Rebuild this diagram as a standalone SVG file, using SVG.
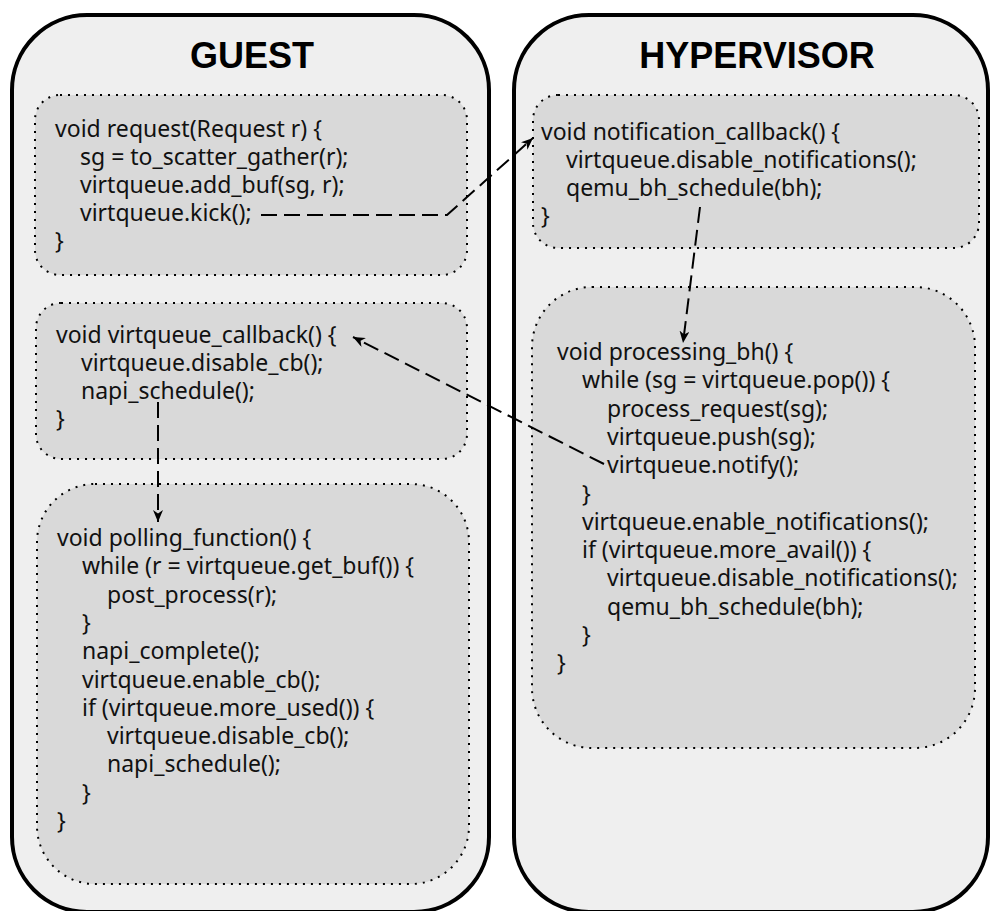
<svg xmlns="http://www.w3.org/2000/svg" width="990" height="911" viewBox="0 0 990 911">
  <style>
    .outer { fill: #efefef; stroke: #000; stroke-width: 4; }
    .inner { fill: #d9d9d9; stroke: #000; stroke-width: 2; stroke-dasharray: 2 6; }
    .title { font-family: "Liberation Sans", Arial, sans-serif; font-weight: bold; font-size: 36px; fill: #000; text-anchor: middle; }
    .code { font-family: "Noto Sans", "Open Sans", sans-serif; font-size: 23px; fill: #111; }
    .flow { fill: none; stroke: #000; stroke-width: 2; stroke-dasharray: 16 7; }
  </style>
  <defs>
    <marker id="arrow" viewBox="0 0 12 10" refX="12" refY="5" markerWidth="12" markerHeight="10" markerUnits="userSpaceOnUse" orient="auto">
      <path d="M0,0 L12,5 L0,10 L3.5,5 z" fill="#000"/>
    </marker>
  </defs>

  <rect width="990" height="911" fill="#fff"/>

  <!-- Guest side -->
  <g id="guest">
    <rect class="outer" x="12" y="15" width="477" height="897" rx="75" ry="75"/>
    <text class="title" x="252" y="68">GUEST</text>
  </g>

  <g id="guest-request">
    <rect class="inner" x="35" y="95" width="432" height="180" rx="25" ry="25"/>
    <text class="code" x="55" y="137" textLength="267" lengthAdjust="spacing">void request(Request r) {</text>
    <text class="code" x="80" y="165">sg = to_scatter_gather(r);</text>
    <text class="code" x="80" y="193">virtqueue.add_buf(sg, r);</text>
    <text class="code" x="80" y="221">virtqueue.kick();</text>
    <text class="code" x="55" y="249">}</text>
  </g>

  <g id="guest-callback">
    <rect class="inner" x="36" y="303" width="431" height="156" rx="25" ry="25"/>
    <text class="code" x="56" y="343">void virtqueue_callback() {</text>
    <text class="code" x="81" y="371">virtqueue.disable_cb();</text>
    <text class="code" x="81" y="399">napi_schedule();</text>
    <text class="code" x="56" y="427">}</text>
  </g>

  <g id="guest-polling">
    <rect class="inner" x="37" y="484" width="432" height="400" rx="58" ry="58"/>
    <text class="code" x="57" y="546">void polling_function() {</text>
    <text class="code" x="82" y="574.3">while (r = virtqueue.get_buf()) {</text>
    <text class="code" x="107" y="602.6">post_process(r);</text>
    <text class="code" x="82" y="630.9">}</text>
    <text class="code" x="82" y="659.2">napi_complete();</text>
    <text class="code" x="82" y="687.5">virtqueue.enable_cb();</text>
    <text class="code" x="82" y="715.8">if (virtqueue.more_used()) {</text>
    <text class="code" x="107" y="744.1">virtqueue.disable_cb();</text>
    <text class="code" x="107" y="772.4">napi_schedule();</text>
    <text class="code" x="82" y="800.7">}</text>
    <text class="code" x="57" y="829">}</text>
  </g>

  <!-- Hypervisor side -->
  <g id="hypervisor">
    <rect class="outer" x="514" y="15" width="474" height="897" rx="75" ry="75"/>
    <text class="title" x="757" y="68">HYPERVISOR</text>
  </g>

  <g id="hv-notification">
    <rect class="inner" x="533" y="95" width="446" height="153" rx="25" ry="25"/>
    <text class="code" x="541" y="140">void notification_callback() {</text>
    <text class="code" x="566" y="168">virtqueue.disable_notifications();</text>
    <text class="code" x="566" y="196">qemu_bh_schedule(bh);</text>
    <text class="code" x="541" y="224">}</text>
  </g>

  <g id="hv-processing">
    <rect class="inner" x="532" y="287" width="443" height="461" rx="60" ry="60"/>
    <text class="code" x="557" y="360">void processing_bh() {</text>
    <text class="code" x="582" y="388.3">while (sg = virtqueue.pop()) {</text>
    <text class="code" x="607" y="416.6">process_request(sg);</text>
    <text class="code" x="607" y="444.9">virtqueue.push(sg);</text>
    <text class="code" x="607" y="473.2">virtqueue.notify();</text>
    <text class="code" x="582" y="501.5">}</text>
    <text class="code" x="582" y="529.8">virtqueue.enable_notifications();</text>
    <text class="code" x="582" y="558.1">if (virtqueue.more_avail()) {</text>
    <text class="code" x="607" y="586.4">virtqueue.disable_notifications();</text>
    <text class="code" x="607" y="614.7">qemu_bh_schedule(bh);</text>
    <text class="code" x="582" y="643">}</text>
    <text class="code" x="557" y="671.3">}</text>
  </g>

  <!-- Control flow between handlers -->
  <g id="connectors">
    <path class="flow" d="M261,215 L447,215 L533,138" marker-end="url(#arrow)"/>
    <path class="flow" d="M700,207 L683,343" marker-end="url(#arrow)"/>
    <path class="flow" d="M604,464 L353,337" marker-end="url(#arrow)"/>
    <path class="flow" d="M158,402 L158,522" marker-end="url(#arrow)"/>
  </g>
</svg>
